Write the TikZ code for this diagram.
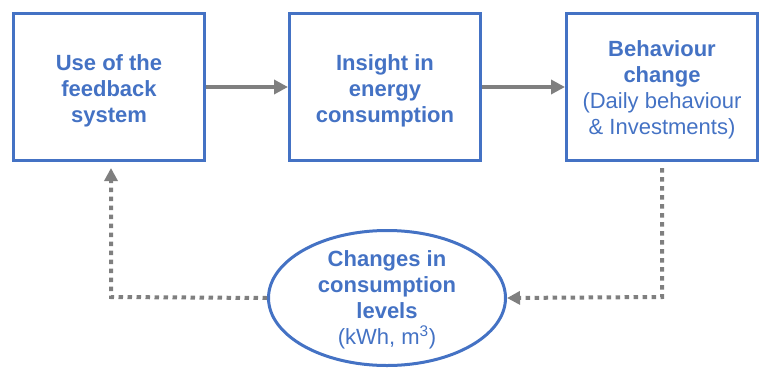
\documentclass[tikz,border=0pt]{standalone}
\usepackage{fontspec}
\setmainfont{Liberation Sans}
\usetikzlibrary{shapes.geometric,arrows.meta}
\definecolor{bblue}{HTML}{4472C4}
\definecolor{agray}{HTML}{7F7F7F}
\begin{document}
\begin{tikzpicture}[x=1pt,y=-1pt,
  boxnode/.style={draw=bblue, line width=3pt, minimum width=191pt, minimum height=147pt, inner sep=0pt},
  ellnode/.style={draw=bblue, line width=3pt, ellipse, minimum width=237pt, minimum height=135pt, inner sep=0pt},
  txt/.style={align=center, text=bblue, font=\fontsize{22}{26}\selectfont},
  solidarrow/.style={draw=agray, line width=4.5pt, -{Triangle[length=14pt,width=14pt]}},
  dotarrow/.style={draw=agray, line width=4pt, dash pattern=on 4.5pt off 4.5pt, -{Triangle[length=13pt,width=13pt]}}
]
\useasboundingbox (0,0) rectangle (759,369);
\node[boxnode] (b1) at (109,87) {};
\node[boxnode] (b2) at (385,87) {};
\node[boxnode] (b3) at (662,87) {};
\node[txt] (t1) at ([yshift=-3.5pt]b1.center) {\textbf{Use of the}\\\textbf{feedback}\\\textbf{system}};
\node[txt] (t2) at ([yshift=-3.5pt]b2.center) {\textbf{Insight in}\\\textbf{energy}\\\textbf{consumption}};
\node[txt] (t3) at ([yshift=-3pt]b3.center) {\textbf{Behaviour}\\\textbf{change}\\(Daily behaviour\\\& Investments)};
\node[ellnode] (e) at (387,298) {};
\node[txt] (et) at ([yshift=-1.5pt]e.center) {\textbf{Changes in}\\\textbf{consumption}\\\textbf{levels}\\(kWh, m\textsuperscript{3})};
\coordinate (c1) at (111,297);
\coordinate (c2) at (662,297);
\draw[solidarrow] (b1) -- (b2);
\draw[solidarrow] (b2) -- (b3);
\draw[dotarrow] ([yshift=-6pt]b3.south) -- (c2) -- (e.east);
\draw[dotarrow] (e.west) -- (c1) -- ([yshift=-6pt]b1.south -| c1);
\end{tikzpicture}
\end{document}
